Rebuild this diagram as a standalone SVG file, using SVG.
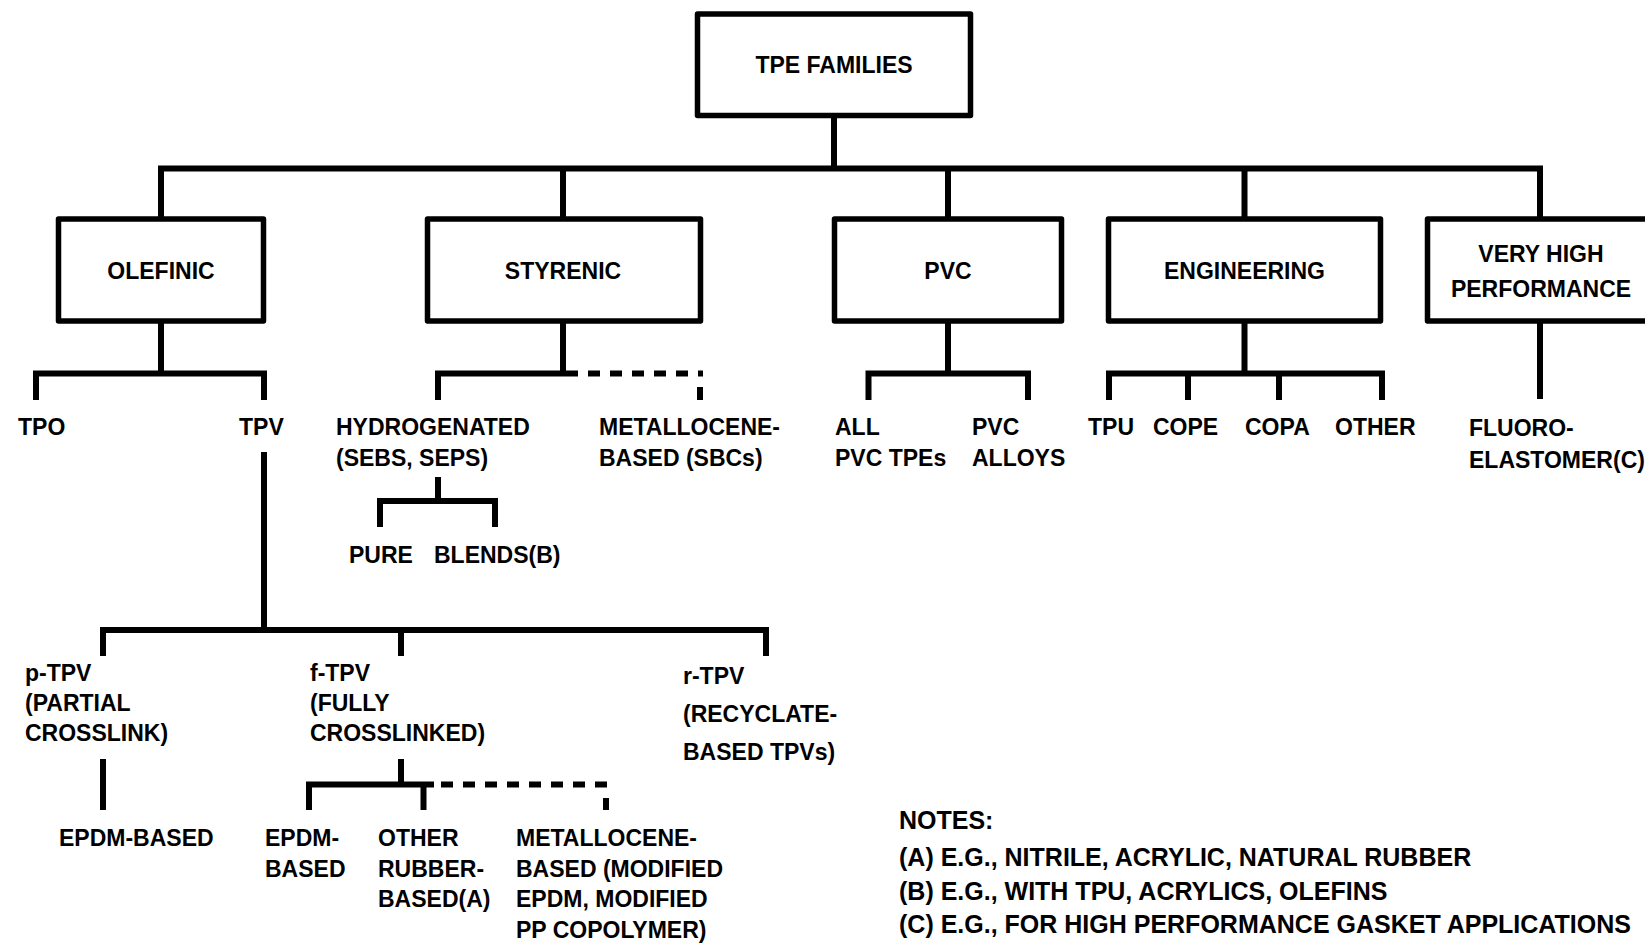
<svg xmlns="http://www.w3.org/2000/svg" width="1645" height="943" viewBox="0 0 1645 943">
<style>
  .box{fill:#fff;stroke:#000;stroke-width:5.5;stroke-linejoin:round}
  .ln{fill:none;stroke:#000;stroke-width:6;stroke-linecap:butt;stroke-linejoin:miter}
  .dash{fill:none;stroke:#000;stroke-width:6;stroke-dasharray:12 10}
  text{font-family:"Liberation Sans",Arial,sans-serif;font-weight:bold;font-size:23px;fill:#000}
  .c{text-anchor:middle}
  .note{font-size:25px}
</style>
<rect width="1645" height="943" fill="#fff"/>
<g id="connectors">
  <path class="ln" d="M834,115 V168.5 M161,222 V168.5 H1540 V222 M563,168.5 V222 M948,168.5 V222 M1244.5,168.5 V222"/>
  <path class="ln" d="M161,321 V373.5 M36,400 V373.5 H264 V400"/>
  <path class="ln" d="M563,321 V373.5 H438 V400"/>
  <path class="dash" d="M566,373.5 H703"/>
  <path class="ln" d="M700,387 V400"/>
  <path class="ln" d="M948,321 V373.5 M868.5,400 V373.5 H1028 V400"/>
  <path class="ln" d="M1244.5,321 V373.5 M1109,400 V373.5 H1382 V400 M1188,373.5 V400 M1279,373.5 V400"/>
  <path class="ln" d="M1540,321 V399"/>
  <path class="ln" d="M438,477 V501 M380,527 V501 H495 V527"/>
  <path class="ln" d="M264,452 V630 M103,656 V630 H766 V656 M401,630 V656"/>
  <path class="ln" d="M103,759 V810"/>
  <path class="ln" d="M401,759 V784.5 M309,810 V784.5 H434 M423.5,784.5 V810"/>
  <path class="dash" d="M441,784.5 H609"/>
  <path class="ln" d="M606,798 V810"/>
</g>
<g id="tpe-families">
  <rect class="box" x="697.5" y="14" width="273" height="101.5"/>
  <text class="c" x="834" y="73">TPE FAMILIES</text>
</g>
<g id="olefinic">
  <rect class="box" x="58.5" y="219" width="205" height="102"/>
  <text class="c" x="161" y="279">OLEFINIC</text>
</g>
<g id="styrenic">
  <rect class="box" x="427.5" y="219" width="273" height="102"/>
  <text class="c" x="563" y="279">STYRENIC</text>
</g>
<g id="pvc">
  <rect class="box" x="834.5" y="219" width="227" height="102"/>
  <text class="c" x="948" y="279">PVC</text>
</g>
<g id="engineering">
  <rect class="box" x="1108.5" y="219" width="272" height="102"/>
  <text class="c" x="1244.5" y="279">ENGINEERING</text>
</g>
<g id="very-high-performance">
  <rect class="box" x="1427.5" y="219" width="230" height="102"/>
  <text class="c" x="1541" y="262">VERY HIGH</text>
  <text class="c" x="1541" y="297">PERFORMANCE</text>
</g>
<g id="tpo"><text x="18" y="435">TPO</text></g>
<g id="tpv"><text x="239" y="435">TPV</text></g>
<g id="hydrogenated"><text x="336" y="435">HYDROGENATED</text><text x="336" y="466">(SEBS, SEPS)</text></g>
<g id="metallocene-sbc"><text x="599" y="435">METALLOCENE-</text><text x="599" y="466">BASED (SBCs)</text></g>
<g id="all-pvc"><text x="835" y="435">ALL</text><text x="835" y="466">PVC TPEs</text></g>
<g id="pvc-alloys"><text x="972" y="435">PVC</text><text x="972" y="466">ALLOYS</text></g>
<g id="tpu"><text x="1088" y="435">TPU</text></g>
<g id="cope"><text x="1153" y="435">COPE</text></g>
<g id="copa"><text x="1245" y="435">COPA</text></g>
<g id="other-eng"><text x="1335" y="435">OTHER</text></g>
<g id="fluoro"><text x="1469" y="436">FLUORO-</text><text x="1469" y="468">ELASTOMER(C)</text></g>
<g id="pure"><text x="349" y="563">PURE</text></g>
<g id="blends"><text x="434" y="563">BLENDS(B)</text></g>
<g id="p-tpv"><text x="25" y="681">p-TPV</text><text x="25" y="711">(PARTIAL</text><text x="25" y="741">CROSSLINK)</text></g>
<g id="f-tpv"><text x="310" y="681">f-TPV</text><text x="310" y="711">(FULLY</text><text x="310" y="741">CROSSLINKED)</text></g>
<g id="r-tpv"><text x="683" y="684">r-TPV</text><text x="683" y="722">(RECYCLATE-</text><text x="683" y="760">BASED TPVs)</text></g>
<g id="p-epdm"><text x="59" y="846">EPDM-BASED</text></g>
<g id="f-epdm"><text x="265" y="846">EPDM-</text><text x="265" y="877">BASED</text></g>
<g id="f-other"><text x="378" y="846">OTHER</text><text x="378" y="877">RUBBER-</text><text x="378" y="907">BASED(A)</text></g>
<g id="f-metallocene"><text x="516" y="846">METALLOCENE-</text><text x="516" y="877">BASED (MODIFIED</text><text x="516" y="907">EPDM, MODIFIED</text><text x="516" y="938">PP COPOLYMER)</text></g>
<g id="notes">
  <text class="note" x="899" y="829">NOTES:</text>
  <text class="note" x="899" y="866">(A) E.G., NITRILE, ACRYLIC, NATURAL RUBBER</text>
  <text class="note" x="899" y="900">(B) E.G., WITH TPU, ACRYLICS, OLEFINS</text>
  <text class="note" x="899" y="933">(C) E.G., FOR HIGH PERFORMANCE GASKET APPLICATIONS</text>
</g>
</svg>
